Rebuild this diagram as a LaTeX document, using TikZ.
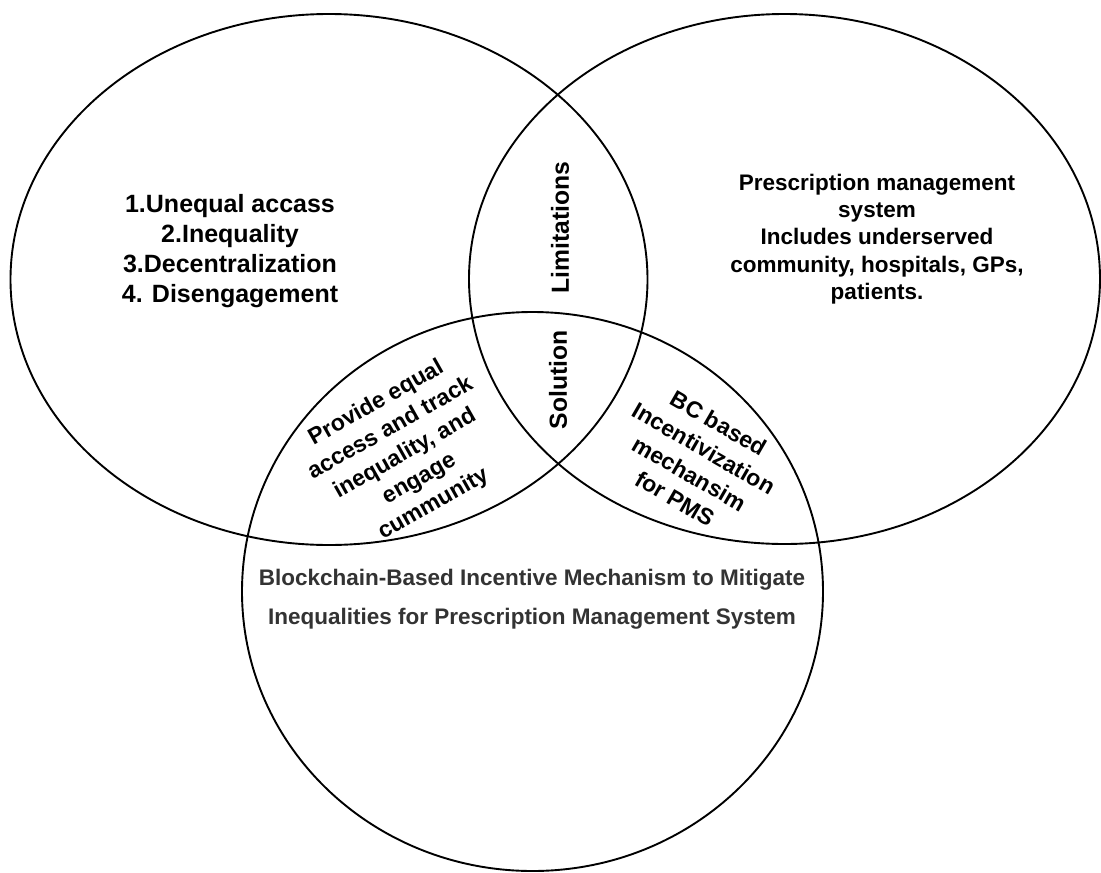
\documentclass[tikz,border=0pt]{standalone}
\usepackage{fontspec}
\setmainfont{Liberation Sans}
\definecolor{captiongray}{HTML}{333333}
\begin{document}
\begin{tikzpicture}[x=1pt, y=-1pt,
  ring/.style={draw=black, line width=1.9pt},
  biglist/.style={align=center, font=\bfseries\fontsize{25}{30}\selectfont, inner sep=0pt},
  lenslabel/.style={align=center, font=\bfseries\fontsize{24.7}{29}\selectfont, inner sep=0pt},
  setlabel/.style={align=center, font=\bfseries\fontsize{22.5}{27.2}\selectfont, inner sep=0pt},
  petal/.style={align=center, font=\bfseries\fontsize{23}{29}\selectfont, inner sep=0pt},
  caption/.style={align=center, text=captiongray, font=\bfseries\fontsize{22.5}{38.5}\selectfont, inner sep=0pt}]
  % canvas
  \fill[white] (0,0) rectangle (1101,873);
  \useasboundingbox (0,0) rectangle (1101,873);

  % the three sets
  \draw[ring] (329,279.5) ellipse [x radius=318.5pt, y radius=265.5pt];
  \draw[ring] (784.5,279) ellipse [x radius=315.5pt, y radius=265pt];
  \draw[ring] (532.5,591.5) ellipse [x radius=290.5pt, y radius=279.5pt];

  % left set: problems
  \node[biglist] (problems) at (230,251) {1.Unequal accass\\2.Inequality\\3.Decentralization\\4. Disengagement};

  % right set: scope
  \node[setlabel] (scope) at (877,239) {Prescription management\\system\\Includes underserved\\community, hospitals, GPs,\\patients.};

  % central lenses
  \node[lenslabel, rotate=90] (limits) at (560,227.5) {Limitations};
  \node[lenslabel, rotate=90] (solution) at (558,380) {Solution};

  % pairwise overlaps with the bottom set
  \node[petal, rotate=29.5] (equal) at (405,454) {Provide equal\\access and track\\inequality, and\\engage\\cummunity};
  \node[petal, rotate=-30] (incent) at (697,461) {BC based\\Incentivization\\mechansim\\for PMS};

  % bottom set: title
  \node[caption] (title) at (532,599) {Blockchain-Based Incentive Mechanism to Mitigate\\Inequalities for Prescription Management System};
\end{tikzpicture}
\end{document}
